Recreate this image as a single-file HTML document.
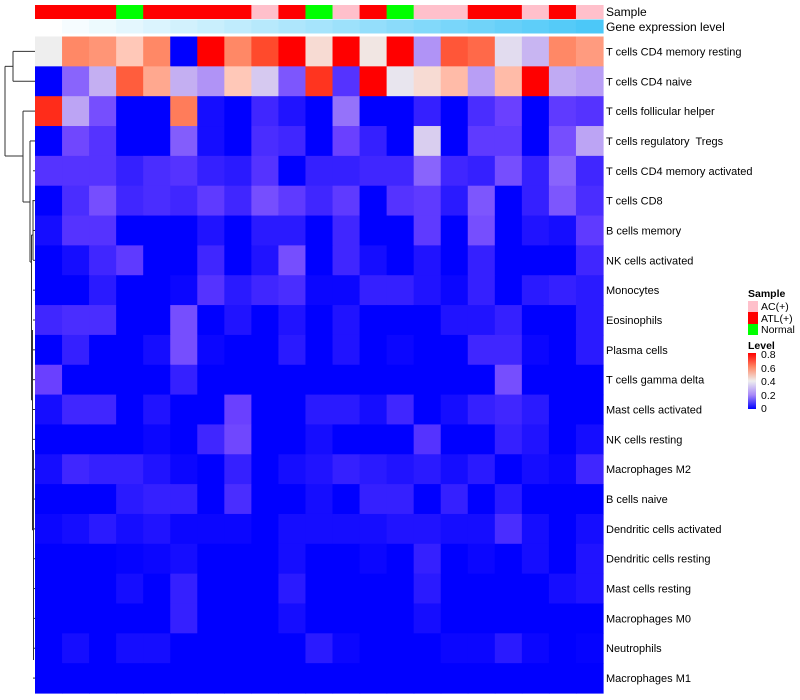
<!DOCTYPE html>
<html><head><meta charset="utf-8">
<style>
body{margin:0;background:#fff;font-family:"Liberation Sans",sans-serif;}
svg{display:block}
#labels text{white-space:pre}
</style></head>
<body>
<svg id="chart" width="800" height="700" xmlns="http://www.w3.org/2000/svg">
<g id="dendro" stroke="#333" stroke-width="1" fill="none"></g>
<g id="annot"></g>
<g id="cells"></g>
<g id="labels" font-size="11" fill="#000"></g>
<text x="606" y="16" font-size="12">Sample</text>
<text x="606" y="31" font-size="12">Gene expression level</text>
<g font-size="10.5">
<text x="748" y="297" font-weight="bold">Sample</text>
<rect x="748" y="301" width="10" height="11" fill="#ffc0cb"/>
<text x="761" y="310">AC(+)</text>
<rect x="748" y="312" width="10" height="12" fill="#ff0000"/>
<text x="761" y="322">ATL(+)</text>
<rect x="748" y="324" width="10" height="11" fill="#00ff00"/>
<text x="761" y="333">Normal</text>
<text x="748" y="349" font-weight="bold">Level</text>
<defs><linearGradient id="lg" x1="0" y1="1" x2="0" y2="0">
<stop offset="0" stop-color="#0000ff"/><stop offset="0.25" stop-color="#a888f8"/><stop offset="0.5" stop-color="#eeeeee"/><stop offset="0.75" stop-color="#ff8866"/><stop offset="1" stop-color="#ff0000"/></linearGradient></defs>
<rect x="748" y="353" width="8" height="56" fill="url(#lg)"/>
<text x="761" y="358">0.8</text>
<text x="761" y="372">0.6</text>
<text x="761" y="385">0.4</text>
<text x="761" y="399">0.2</text>
<text x="761" y="412">0</text>
</g>
</svg>
<script>
const rowNames=["T cells CD4 memory resting","T cells CD4 naive","T cells follicular helper","T cells regulatory  Tregs","T cells CD4 memory activated","T cells CD8","B cells memory","NK cells activated","Monocytes","Eosinophils","Plasma cells","T cells gamma delta","Mast cells activated","NK cells resting","Macrophages M2","B cells naive","Dendritic cells activated","Dendritic cells resting","Mast cells resting","Macrophages M0","Neutrophils","Macrophages M1"];
const sampleGroups=["ATL","ATL","ATL","Normal","ATL","ATL","ATL","ATL","AC","ATL","Normal","AC","ATL","Normal","AC","AC","ATL","ATL","AC","ATL","AC"];
const expressionLevel=[0,0.05,0.1,0.15,0.2,0.25,0.3,0.35,0.4,0.45,0.5,0.55,0.6,0.65,0.7,0.75,0.8,0.85,0.9,0.95,1];
const values=[
[0.4,0.6,0.58,0.5,0.6,0,0.8,0.6,0.7,0.8,0.45,0.8,0.42,0.8,0.22,0.68,0.65,0.36,0.28,0.6,0.57],
[0,0.15,0.27,0.67,0.55,0.27,0.22,0.5,0.32,0.13,0.73,0.08,0.8,0.38,0.45,0.52,0.24,0.52,0.8,0.26,0.24],
[0.74,0.25,0.12,0,0,0.62,0.02,0,0.06,0.03,0,0.17,0,0,0.05,0,0.07,0.1,0,0.09,0.08],
[0,0.11,0.08,0,0,0.14,0.02,0,0.07,0.06,0,0.1,0.05,0,0.33,0,0.09,0.09,0,0.12,0.25],
[0.08,0.08,0.08,0.05,0.07,0.08,0.05,0.04,0.08,0,0.05,0.05,0.06,0.06,0.15,0.06,0.05,0.12,0.05,0.15,0.06],
[0,0.07,0.12,0.06,0.07,0.06,0.09,0.06,0.12,0.09,0.06,0.09,0,0.08,0.09,0.04,0.13,0,0.05,0.13,0.07],
[0.02,0.08,0.08,0,0,0,0.03,0,0.04,0.04,0,0.06,0,0,0.09,0,0.12,0,0.03,0.02,0.09],
[0,0.02,0.06,0.09,0,0,0.06,0,0.03,0.12,0,0.06,0.02,0,0.03,0,0.05,0,0,0,0.06],
[0,0,0.04,0,0,0.01,0.08,0.04,0.06,0.07,0.01,0.01,0.05,0.05,0.03,0.01,0.05,0,0.04,0.05,0.04],
[0.06,0.07,0.07,0,0,0.12,0,0.03,0,0.03,0,0.03,0,0,0,0.03,0.03,0.05,0,0,0.04],
[0,0.05,0,0,0.02,0.12,0.01,0,0,0.04,0,0.03,0,0.01,0,0,0.06,0.06,0.01,0,0.04],
[0.1,0,0,0,0,0.05,0,0,0,0,0,0,0,0,0,0,0,0.12,0,0,0],
[0.02,0.06,0.06,0,0.03,0,0,0.1,0,0,0.04,0.04,0.02,0.06,0,0.02,0.05,0.06,0.04,0,0],
[0,0,0,0,0.01,0,0.06,0.11,0,0,0.02,0,0,0,0.08,0,0,0.05,0.03,0,0.02],
[0.02,0.06,0.05,0.05,0.03,0.01,0,0.05,0,0.02,0.03,0.05,0.04,0.03,0.04,0.02,0.04,0,0.02,0.01,0.06],
[0,0,0,0.04,0.05,0.05,0,0.07,0,0,0.02,0,0.05,0.05,0,0.05,0,0.04,0,0,0],
[0.01,0.02,0.04,0.02,0.03,0.01,0.01,0.01,0,0.02,0.02,0.02,0.02,0.03,0.03,0.02,0.02,0.07,0.02,0,0.02],
[0,0,0,0.005,0.01,0.02,0,0,0,0.02,0,0,0.01,0,0.05,0,0.01,0,0.02,0,0.03],
[0,0,0,0.02,0,0.05,0,0,0,0.04,0,0,0,0,0.04,0,0,0,0,0.02,0.03],
[0,0,0,0,0,0.05,0,0,0,0.02,0,0,0,0,0.02,0,0,0,0,0,0],
[0,0.02,0,0.02,0.02,0,0,0,0,0,0.04,0.01,0,0,0,0.01,0.01,0.04,0.01,0,0.005],
[0,0,0,0,0,0,0,0,0,0,0,0,0,0,0,0,0,0,0,0,0]
];
const NS="http://www.w3.org/2000/svg";
const X0=35,X1=603,Y0=36.5,Y1=693;
const nC=sampleGroups.length,nR=rowNames.length;
const cw=(X1-X0)/nC,rh=(Y1-Y0)/nR;
const xPos=c=>X0+c*cw, yPos=r=>Y0+r*rh;
const stops=[[0,[0,0,255]],[0.1,[106,64,255]],[0.2,[168,136,248]],[0.3,[208,192,240]],[0.4,[238,238,238]],[0.5,[255,200,184]],[0.6,[255,136,102]],[0.7,[255,74,44]],[0.8,[255,0,0]]];
function col(v){v=Math.max(0,Math.min(0.8,v));for(let i=1;i<stops.length;i++){if(v<=stops[i][0]){const[a,ca]=stops[i-1],[b,cb]=stops[i];const t=(v-a)/(b-a);return`rgb(${ca.map((x,k)=>Math.round(x+(cb[k]-x)*t)).join(',')})`;}}return'rgb(255,0,0)';}
const gc={AC:"#ffc0cb",ATL:"#ff0000",Normal:"#00ff00"};
function mk(tag,attrs,parent){const e=document.createElementNS(NS,tag);for(const k in attrs)e.setAttribute(k,attrs[k]);parent.appendChild(e);return e;}
const cells=document.getElementById('cells');
for(let r=0;r<nR;r++)for(let c=0;c<nC;c++){
 const e=mk('rect',{x:xPos(c),y:yPos(r),width:cw+0.6,height:rh+0.6,fill:col(values[r][c])},cells);
 
 
}
const an=document.getElementById('annot');
for(let c=0;c<nC;c++){
 const s=mk('rect',{x:xPos(c),y:5,width:cw+0.6,height:14,fill:gc[sampleGroups[c]]},an);
 
 
 const t=expressionLevel[c];
 const g=mk('rect',{x:xPos(c),y:19.5,width:cw+0.6,height:14,fill:`rgb(${Math.round(255-(255-76)*t)},${Math.round(255-(255-200)*t)},${Math.round(255-(255-248)*t)})`},an);
 
 
}
const lb=document.getElementById('labels');
for(let r=0;r<nR;r++){
 const t=mk('text',{x:606,y:yPos(r)+rh/2+4},lb);
 t.textContent=rowNames[r];
 
 
}
const d=document.getElementById('dendro');
const cy=r=>yPos(r)+rh/2;
function seg(x1,y1,x2,y2){const l=mk('line',{x1,y1,x2,y2},d);}
seg(13,cy(0),35,cy(0));seg(13,cy(1),35,cy(1));seg(13,cy(0),13,cy(1));
const yA=(cy(0)+cy(1))/2;seg(5,yA,13,yA);
seg(23,cy(2),35,cy(2));
const yB=202;seg(23,cy(2),23,yB);seg(23,yB,30,yB);
seg(30,cy(3),35,cy(3));seg(30,cy(3),30,262);seg(30,262,31.5,262);
seg(31.5,235,31.5,400);seg(31.5,235,33,235);seg(31.5,400,32.5,400);
seg(32.5,330,32.5,530);seg(32.5,530,33.5,530);seg(33,200,33,260);
seg(33.5,450,33.5,660);
for(let r=4;r<nR;r++)seg(33,cy(r),35,cy(r));
seg(5,yA,5,156);seg(5,156,23,156);
</script>
</body></html>
